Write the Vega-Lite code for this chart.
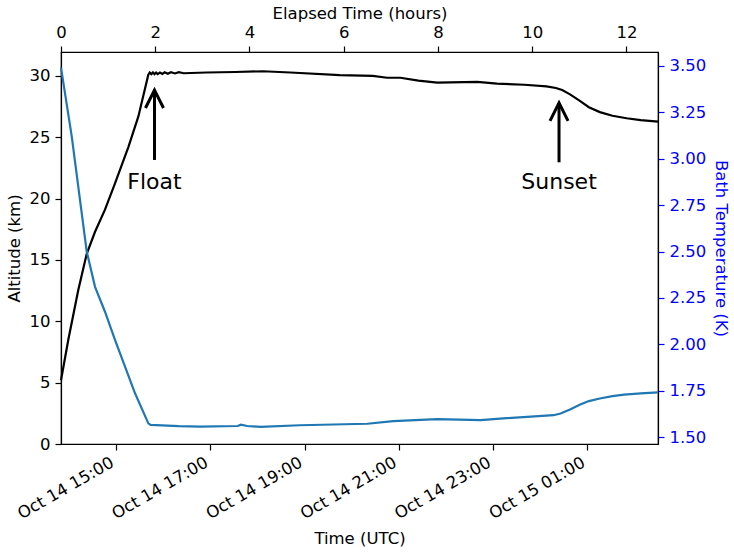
{
  "$schema": "https://vega.github.io/schema/vega-lite/v6.json",
  "width": 597,
  "height": 392,
  "autosize": {"type": "none"},
  "padding": {"left": 61, "top": 52, "right": 76, "bottom": 109},
  "background": "white",
  "datasets": {
    "altitude": [
      {"t": "2018-10-14T13:50:00", "alt": 5.2},
      {"t": "2018-10-14T13:59:18", "alt": 8.5},
      {"t": "2018-10-14T14:12:00", "alt": 12.55},
      {"t": "2018-10-14T14:22:45", "alt": 15.5},
      {"t": "2018-10-14T14:33:20", "alt": 17.3},
      {"t": "2018-10-14T14:46:00", "alt": 19.1},
      {"t": "2018-10-14T14:58:45", "alt": 21.25},
      {"t": "2018-10-14T15:15:45", "alt": 24.2},
      {"t": "2018-10-14T15:28:30", "alt": 26.7},
      {"t": "2018-10-14T15:41:10", "alt": 30.1},
      {"t": "2018-10-14T15:43:00", "alt": 30.28},
      {"t": "2018-10-14T15:45:00", "alt": 30.14},
      {"t": "2018-10-14T15:47:00", "alt": 30.28},
      {"t": "2018-10-14T15:49:00", "alt": 30.14},
      {"t": "2018-10-14T15:51:00", "alt": 30.28},
      {"t": "2018-10-14T15:53:00", "alt": 30.15},
      {"t": "2018-10-14T15:56:00", "alt": 30.28},
      {"t": "2018-10-14T15:59:00", "alt": 30.16},
      {"t": "2018-10-14T16:02:00", "alt": 30.3},
      {"t": "2018-10-14T16:06:00", "alt": 30.18},
      {"t": "2018-10-14T16:10:00", "alt": 30.3},
      {"t": "2018-10-14T16:15:00", "alt": 30.2},
      {"t": "2018-10-14T16:20:00", "alt": 30.3},
      {"t": "2018-10-14T16:26:00", "alt": 30.22},
      {"t": "2018-10-14T16:55:00", "alt": 30.28},
      {"t": "2018-10-14T17:32:00", "alt": 30.32},
      {"t": "2018-10-14T18:07:00", "alt": 30.38},
      {"t": "2018-10-14T18:42:00", "alt": 30.28},
      {"t": "2018-10-14T19:45:00", "alt": 30.07},
      {"t": "2018-10-14T20:27:00", "alt": 30.0},
      {"t": "2018-10-14T20:45:00", "alt": 29.85},
      {"t": "2018-10-14T21:02:00", "alt": 29.85},
      {"t": "2018-10-14T21:25:00", "alt": 29.62},
      {"t": "2018-10-14T21:49:00", "alt": 29.45},
      {"t": "2018-10-14T22:40:00", "alt": 29.52},
      {"t": "2018-10-14T23:05:00", "alt": 29.38},
      {"t": "2018-10-14T23:40:00", "alt": 29.28},
      {"t": "2018-10-15T00:08:00", "alt": 29.15},
      {"t": "2018-10-15T00:20:00", "alt": 29.02},
      {"t": "2018-10-15T00:28:00", "alt": 28.85},
      {"t": "2018-10-15T00:38:00", "alt": 28.5},
      {"t": "2018-10-15T00:51:00", "alt": 27.95},
      {"t": "2018-10-15T01:02:00", "alt": 27.45},
      {"t": "2018-10-15T01:16:00", "alt": 27.05},
      {"t": "2018-10-15T01:32:00", "alt": 26.75},
      {"t": "2018-10-15T01:50:00", "alt": 26.55},
      {"t": "2018-10-15T02:08:00", "alt": 26.4},
      {"t": "2018-10-15T02:30:00", "alt": 26.27}
    ],
    "temperature": [
      {"t": "2018-10-14T13:50:00", "temp": 3.49},
      {"t": "2018-10-14T14:03:40", "temp": 3.12},
      {"t": "2018-10-14T14:22:45", "temp": 2.5},
      {"t": "2018-10-14T14:33:20", "temp": 2.31},
      {"t": "2018-10-14T14:46:00", "temp": 2.176},
      {"t": "2018-10-14T14:58:45", "temp": 2.024},
      {"t": "2018-10-14T15:11:30", "temp": 1.88},
      {"t": "2018-10-14T15:24:15", "temp": 1.737},
      {"t": "2018-10-14T15:41:10", "temp": 1.575},
      {"t": "2018-10-14T15:44:00", "temp": 1.567},
      {"t": "2018-10-14T16:20:00", "temp": 1.56},
      {"t": "2018-10-14T16:47:00", "temp": 1.558},
      {"t": "2018-10-14T17:35:00", "temp": 1.561},
      {"t": "2018-10-14T17:39:00", "temp": 1.568},
      {"t": "2018-10-14T17:47:00", "temp": 1.561},
      {"t": "2018-10-14T18:04:00", "temp": 1.556},
      {"t": "2018-10-14T18:54:00", "temp": 1.565},
      {"t": "2018-10-14T20:20:00", "temp": 1.573},
      {"t": "2018-10-14T20:53:00", "temp": 1.587},
      {"t": "2018-10-14T21:49:00", "temp": 1.598},
      {"t": "2018-10-14T22:44:00", "temp": 1.592},
      {"t": "2018-10-14T23:09:00", "temp": 1.601},
      {"t": "2018-10-15T00:17:00", "temp": 1.619},
      {"t": "2018-10-15T00:26:00", "temp": 1.628},
      {"t": "2018-10-15T00:38:00", "temp": 1.65},
      {"t": "2018-10-15T00:51:00", "temp": 1.677},
      {"t": "2018-10-15T01:02:00", "temp": 1.695},
      {"t": "2018-10-15T01:16:00", "temp": 1.709},
      {"t": "2018-10-15T01:32:00", "temp": 1.722},
      {"t": "2018-10-15T01:47:00", "temp": 1.73},
      {"t": "2018-10-15T02:08:00", "temp": 1.737},
      {"t": "2018-10-15T02:30:00", "temp": 1.742}
    ],
    "notes": [
      {"label": "Float", "t": "2018-10-14T15:49:00", "tip": 28.85, "tail": 23.15, "ty": 20.75},
      {"label": "Sunset", "t": "2018-10-15T00:24:00", "tip": 27.8, "tail": 22.96, "ty": 20.75}
    ],
    "elapsed": [
      {"h": 0},
      {"h": 12.67}
    ]
  },
  "layer": [
    {
      "encoding": {
        "x": {
          "field": "t",
          "type": "temporal",
          "title": "Time (UTC)",
          "scale": {
            "domain": [
              {"year": 2018, "month": 10, "date": 14, "hours": 13, "minutes": 50},
              {"year": 2018, "month": 10, "date": 15, "hours": 2, "minutes": 30}
            ]
          },
          "axis": {
            "orient": "bottom",
            "format": "%b %d %H:%M",
            "values": [
              {"year": 2018, "month": 10, "date": 14, "hours": 15},
              {"year": 2018, "month": 10, "date": 14, "hours": 17},
              {"year": 2018, "month": 10, "date": 14, "hours": 19},
              {"year": 2018, "month": 10, "date": 14, "hours": 21},
              {"year": 2018, "month": 10, "date": 14, "hours": 23},
              {"year": 2018, "month": 10, "date": 15, "hours": 1}
            ],
            "labelAngle": -30,
            "labelAlign": "right",
            "labelBaseline": "top",
            "labelOffset": -8,
            "labelPadding": 4,
            "titlePadding": 8
          }
        }
      },
      "layer": [
        {
          "data": {"name": "altitude"},
          "mark": {"type": "line", "color": "black", "strokeWidth": 2.2},
          "encoding": {
            "y": {
              "field": "alt",
              "type": "quantitative",
              "title": "Altitude (km)",
              "scale": {"domain": [0, 31.95], "nice": false, "zero": false},
              "axis": {"values": [0, 5, 10, 15, 20, 25, 30], "labelPadding": 5, "titlePadding": 7}
            }
          }
        },
        {
          "data": {"name": "notes"},
          "mark": {"type": "rule", "color": "black", "strokeWidth": 3},
          "encoding": {
            "y": {"field": "tail", "type": "quantitative", "title": "Altitude (km)", "scale": {"domain": [0, 31.95], "nice": false, "zero": false}},
            "y2": {"field": "tip"}
          }
        },
        {
          "data": {"name": "notes"},
          "mark": {
            "type": "point",
            "shape": "M-0.5,1L0,0L0.5,1",
            "size": 1296,
            "filled": false,
            "stroke": "black",
            "strokeWidth": 3,
            "opacity": 1
          },
          "encoding": {
            "y": {"field": "tip", "type": "quantitative", "title": "Altitude (km)", "scale": {"domain": [0, 31.95], "nice": false, "zero": false}}
          }
        },
        {
          "data": {"name": "notes"},
          "mark": {
            "type": "text",
            "font": "DejaVu Sans",
            "fontSize": 22,
            "align": "center",
            "baseline": "alphabetic",
            "color": "black"
          },
          "encoding": {
            "y": {"field": "ty", "type": "quantitative", "title": "Altitude (km)", "scale": {"domain": [0, 31.95], "nice": false, "zero": false}},
            "text": {"field": "label"}
          }
        }
      ]
    },
    {
      "data": {"name": "temperature"},
      "mark": {"type": "line", "color": "#1f77b4", "strokeWidth": 2.2},
      "encoding": {
        "x": {
          "field": "t",
          "type": "temporal",
          "scale": {
            "domain": [
              {"year": 2018, "month": 10, "date": 14, "hours": 13, "minutes": 50},
              {"year": 2018, "month": 10, "date": 15, "hours": 2, "minutes": 30}
            ]
          },
          "axis": null
        },
        "y": {
          "field": "temp",
          "type": "quantitative",
          "title": "Bath Temperature (K)",
          "scale": {"domain": [1.464, 3.574], "nice": false, "zero": false},
          "axis": {
            "orient": "right",
            "values": [1.5, 1.75, 2.0, 2.25, 2.5, 2.75, 3.0, 3.25, 3.5],
            "format": ".2f",
            "labelColor": "#0000ff",
            "tickColor": "#0000ff",
            "titleColor": "#0000ff",
            "labelPadding": 5,
            "titlePadding": 7
          }
        }
      }
    },
    {
      "data": {"name": "elapsed"},
      "mark": {"type": "point", "opacity": 0},
      "encoding": {
        "x": {
          "field": "h",
          "type": "quantitative",
          "title": "Elapsed Time (hours)",
          "scale": {"domain": [0, 12.67], "nice": false, "zero": false},
          "axis": {
            "orient": "top",
            "values": [0, 2, 4, 6, 8, 10, 12],
            "labelPadding": 6,
            "titlePadding": 3
          }
        }
      }
    }
  ],
  "resolve": {"scale": {"x": "independent", "y": "independent"}},
  "config": {
    "view": {"stroke": "black", "strokeWidth": 1.2},
    "axis": {
      "grid": false,
      "domainColor": "black",
      "domainWidth": 1.2,
      "tickColor": "black",
      "tickWidth": 1.2,
      "tickSize": 6,
      "labelColor": "black",
      "titleColor": "black",
      "labelFont": "DejaVu Sans",
      "titleFont": "DejaVu Sans",
      "labelFontSize": 16.5,
      "titleFontSize": 16.5,
      "titleFontWeight": "normal",
      "labelFlush": false,
      "labelOverlap": false
    }
  }
}
